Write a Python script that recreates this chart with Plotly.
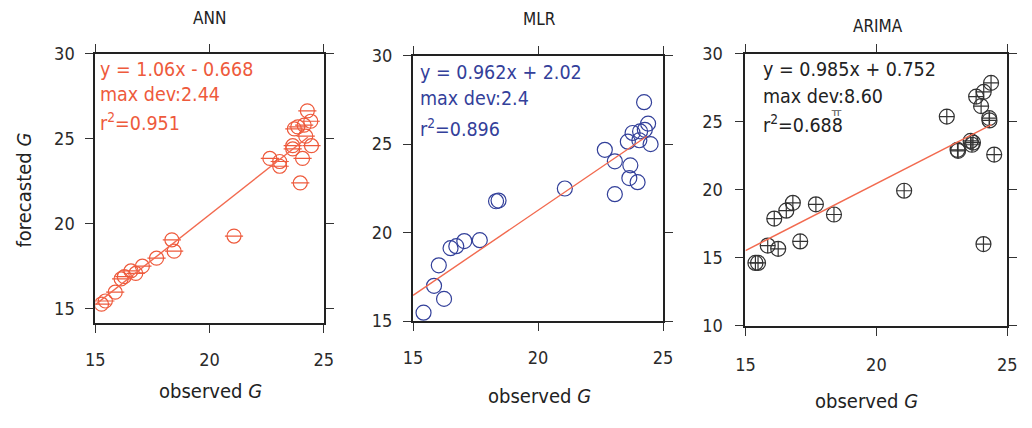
import plotly.graph_objects as go

W, H = 1032, 428

# ---------------- data ----------------
panel_titles = ["ANN", "MLR", "ARIMA"]

ann_obs = [15.27, 15.44, 15.87, 16.13, 16.27, 16.56, 16.77, 17.06, 17.68, 18.35, 18.45, 21.07,
           22.64, 23.07, 23.07, 23.64, 23.64, 23.71, 23.86, 24.07, 23.97, 24.28, 24.43, 24.14,
           24.21, 24.46]
ann_pred = [15.26, 15.45, 15.97, 16.75, 16.88, 17.22, 17.07, 17.50, 17.97, 19.05, 18.38, 19.27,
            23.84, 23.66, 23.38, 24.59, 24.40, 25.58, 25.70, 23.84, 22.40, 26.64, 26.03, 25.80,
            25.15, 24.59]

mlr_obs = [15.42, 15.84, 16.24, 16.03, 16.50, 16.73, 17.05, 17.67, 18.32, 18.42, 21.07, 22.67,
           23.07, 23.07, 23.69, 23.65, 23.98, 23.59, 23.78, 24.08, 24.05, 24.27, 24.24, 24.40,
           24.50]
mlr_pred = [15.47, 16.99, 16.25, 18.15, 19.12, 19.23, 19.52, 19.57, 21.77, 21.81, 22.49, 24.68,
            24.03, 22.17, 23.80, 23.08, 22.85, 25.14, 25.63, 25.72, 25.22, 25.81, 27.37, 26.16,
            25.00]

arima_obs = [15.38, 15.48, 15.85, 16.25, 16.10, 16.56, 16.81, 17.09, 17.69, 18.38, 21.06, 22.69,
             23.10, 23.12, 23.60, 23.69, 23.65, 23.81, 24.10, 24.00, 24.31, 24.32, 24.38, 24.50,
             24.09]
arima_pred = [14.62, 14.62, 15.90, 15.66, 17.88, 18.46, 19.04, 16.20, 18.93, 18.18, 19.93, 25.38,
              22.94, 22.86, 23.59, 23.47, 23.31, 26.85, 27.20, 26.15, 25.27, 25.10, 27.86, 22.59,
              16.01]

fit_slope = [1.06, 0.962, 0.985]
fit_intercept = [-0.668, 2.02, 0.752]
fit_x_range = [[15.0, 24.3], [15.0, 24.35], [15.0, 24.4]]

stat_lines = [
    ["y = 1.06x - 0.668", "max dev:2.44", "r<sup>2</sup>=0.951"],
    ["y = 0.962x + 2.02", "max dev:2.4", "r<sup>2</sup>=0.896"],
    ["y = 0.985x + 0.752", "max dev:8.60", "r<sup>2</sup>=0.688"],
]

x_ticks = [15, 20, 25]
y_ticks = [[15, 20, 25, 30], [15, 20, 25, 30], [10, 15, 20, 25, 30]]
y_ranges = [[14.16, 30], [15, 30], [10, 30]]
x_range = [15, 25]

# ---------------- styling ----------------
RED = "#EE5A3C"
BLUE = "#33409A"
DARK = "#333333"
FONT = "DejaVu Sans Condensed, Liberation Sans Narrow, DejaVu Sans, sans-serif"

# plot boxes in pixels: left, right, top, bottom
boxes = [(87, 320, 45, 328), (411, 666, 47, 326), (750, 1017, 45, 331)]


def fx(p):
    return p / W


def fy(p):
    return 1 - p / H


fig = go.Figure()

# ANN: circle with horizontal bar
fig.add_trace(go.Scatter(x=ann_obs, y=ann_pred, mode="markers", xaxis="x", yaxis="y",
                         marker=dict(symbol="circle-open", size=14, color=RED,
                                     line=dict(color=RED, width=1.2)),
                         showlegend=False, hoverinfo="skip"))
fig.add_trace(go.Scatter(x=ann_obs, y=ann_pred, mode="markers", xaxis="x", yaxis="y",
                         marker=dict(symbol="line-ew-open", size=13, color=RED,
                                     line=dict(color=RED, width=1.2)),
                         showlegend=False))
# MLR: open circles
fig.add_trace(go.Scatter(x=mlr_obs, y=mlr_pred, mode="markers", xaxis="x2", yaxis="y2",
                         marker=dict(symbol="circle-open", size=15, color=BLUE,
                                     line=dict(color=BLUE, width=1.2)),
                         showlegend=False))
# ARIMA: circle with cross
fig.add_trace(go.Scatter(x=arima_obs, y=arima_pred, mode="markers", xaxis="x3", yaxis="y3",
                         marker=dict(symbol="circle-cross-open", size=15, color=DARK,
                                     line=dict(color=DARK, width=1.2)),
                         showlegend=False))

# fit lines
for i in range(3):
    xs = fit_x_range[i]
    ys = [fit_slope[i] * v + fit_intercept[i] for v in xs]
    sfx = "" if i == 0 else str(i + 1)
    fig.add_trace(go.Scatter(x=xs, y=ys, mode="lines", xaxis="x" + sfx, yaxis="y" + sfx,
                             line=dict(color="#F26A4F", width=1.4), showlegend=False))

layout = dict(
    width=W, height=H, margin=dict(l=0, r=0, t=0, b=0),
    paper_bgcolor="white", plot_bgcolor="white",
    font=dict(family=FONT, size=16, color=DARK),
    showlegend=False,
)

axis_common = dict(showline=True, linecolor="#222222", linewidth=2, mirror="ticks",
                   ticks="outside", ticklen=8, tickwidth=1.3, tickcolor="#333333",
                   showgrid=False, zeroline=False, tickfont=dict(size=18, family=FONT, color="#2a2a2a"))

for i, (l, r, t, b) in enumerate(boxes):
    sfx = "" if i == 0 else str(i + 1)
    layout["xaxis" + sfx] = dict(axis_common, domain=[fx(l), fx(r)], range=x_range,
                                 tickvals=x_ticks, anchor="y" + sfx,
                                 ticklabelstandoff=[11, 11, 14][i])
    layout["yaxis" + sfx] = dict(axis_common, domain=[fy(b), fy(t)], range=y_ranges[i],
                                 tickvals=y_ticks[i], anchor="x" + sfx,
                                 ticklabelstandoff=[7, 7, 9][i])

annotations = []
title_pos = [(203, 7), (540, 8), (885, 16)]
for name, (px, py) in zip(panel_titles, title_pos):
    annotations.append(dict(text=name, x=fx(px), y=fy(py), xref="paper", yref="paper",
                            xanchor="center", yanchor="middle", showarrow=False,
                            font=dict(size=17, family=FONT, color="#222222")))

xlabel_pos = [(204, 400), (540, 405), (873, 410)]
for (px, py) in xlabel_pos:
    annotations.append(dict(text="observed <i>G</i>", x=fx(px), y=fy(py), xref="paper",
                            yref="paper", xanchor="center", yanchor="middle", showarrow=False,
                            font=dict(size=20, family=FONT, color="#222222")))

annotations.append(dict(text="forecasted <i>G</i>", x=fx(14), y=fy(188), xref="paper",
                        yref="paper", xanchor="center", yanchor="middle", textangle=-90,
                        showarrow=False, font=dict(size=20, family=FONT, color="#222222")))

stat_colors = [RED, BLUE, "#222222"]
stat_x = [90, 416, 766]
stat_y = [[62, 88, 117], [65, 92, 123], [62, 90, 119]]
for i in range(3):
    for j, line in enumerate(stat_lines[i]):
        annotations.append(dict(text=line, x=fx(stat_x[i]), y=fy(stat_y[i][j]), xref="paper",
                                yref="paper", xanchor="left", yanchor="middle",
                                showarrow=False,
                                font=dict(size=19.5, family=FONT, color=stat_colors[i])))

# small stray glyph under "dev:" in the ARIMA panel
annotations.append(dict(text="ㅠ", x=fx(843), y=fy(106), xref="paper", yref="paper",
                        xanchor="center", yanchor="middle", showarrow=False,
                        font=dict(size=12, family="Noto Sans CJK KR", color="#555555")))

layout["annotations"] = annotations
fig.update_layout(**layout)
fig.write_html("out.html")
